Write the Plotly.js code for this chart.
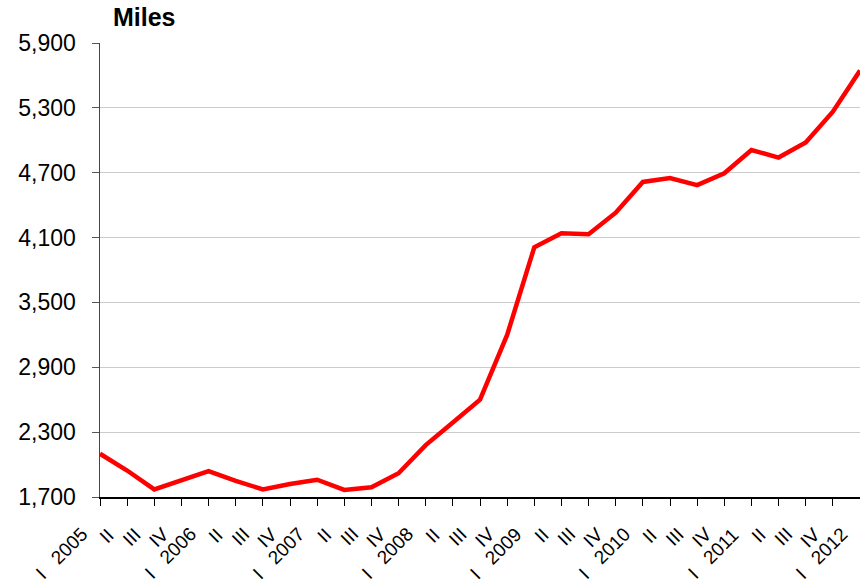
<!DOCTYPE html>
<html>
<head>
<meta charset="utf-8">
<script src="https://cdn.plot.ly/plotly-3.0.1.min.js"></script>
<style>html,body{margin:0;padding:0;background:#fff;}#chart{width:860px;height:584px;}</style>
</head>
<body>
<div id="chart"></div>
<script>
var quarterLabels = ["I\u00a0\u00a0\u00a02005","II","III","IV","I\u00a0\u00a0\u00a02006","II","III","IV","I\u00a0\u00a0\u00a02007","II","III","IV","I\u00a0\u00a0\u00a02008","II","III","IV","I\u00a0\u00a0\u00a02009","II","III","IV","I\u00a0\u00a0\u00a02010","II","III","IV","I\u00a0\u00a0\u00a02011","II","III","IV","I\u00a0\u00a0\u00a02012"];
var miles = [2100,1945,1770,1850,1940,1850,1770,1820,1860,1765,1790,1920,2180,2390,2600,3200,4010,4140,4130,4330,4615,4650,4585,4695,4910,4840,4980,5265,5645];
var yTicks = [1700,2300,2900,3500,4100,4700,5300,5900];

var xIdx = quarterLabels.map(function(_, i){ return i; });

var trace = {
  x: xIdx,
  y: miles,
  type: 'scatter',
  mode: 'lines',
  line: {color: '#ff0000', width: 4.5},
  hoverinfo: 'skip'
};

var tickAnnotations = quarterLabels.map(function(lbl, i){
  return {
    xref: 'x', x: i,
    yref: 'paper', y: 0,
    text: lbl,
    showarrow: false,
    textangle: -45,
    xanchor: 'right', yanchor: 'top',
    xshift: -6, yshift: -24,
    font: {size: 19, color: '#000', family: 'Liberation Sans, Arial, sans-serif'}
  };
});

var layout = {
  width: 860,
  height: 584,
  margin: {l: 100, r: 0, t: 43, b: 87},
  paper_bgcolor: '#ffffff',
  plot_bgcolor: '#ffffff',
  showlegend: false,
  font: {family: 'Liberation Sans, Arial, sans-serif', color: '#000'},
  title: {
    text: '<b>Miles</b>',
    font: {size: 25, family: 'Liberation Sans, Arial, sans-serif', color: '#000'},
    x: 113/860, xanchor: 'left', xref: 'container',
    y: 1 - 8.5/584, yanchor: 'top', yref: 'container'
  },
  annotations: tickAnnotations,
  xaxis: {
    range: [0, 28],
    tickmode: 'array',
    tickvals: xIdx,
    showticklabels: false,
    ticks: 'outside',
    ticklen: 7,
    tickcolor: '#000',
    tickwidth: 1,
    showline: true,
    linecolor: '#000',
    linewidth: 1.5,
    showgrid: false,
    zeroline: false,
    fixedrange: true
  },
  yaxis: {
    range: [1700, 5900],
    tickmode: 'array',
    tickvals: yTicks,
    ticktext: yTicks.map(function(v){ return v.toLocaleString('en-US'); }),
    ticks: 'outside',
    ticklen: 7,
    tickcolor: '#555',
    showline: true,
    linecolor: '#444',
    linewidth: 1.5,
    showgrid: true,
    gridcolor: '#cccccc',
    gridwidth: 1,
    zeroline: false,
    tickfont: {size: 23, color: '#000'},
    ticklabelstandoff: 11,
    fixedrange: true
  }
};

Plotly.newPlot('chart', [trace], layout, {displayModeBar: false, staticPlot: true});
</script>
</body>
</html>
